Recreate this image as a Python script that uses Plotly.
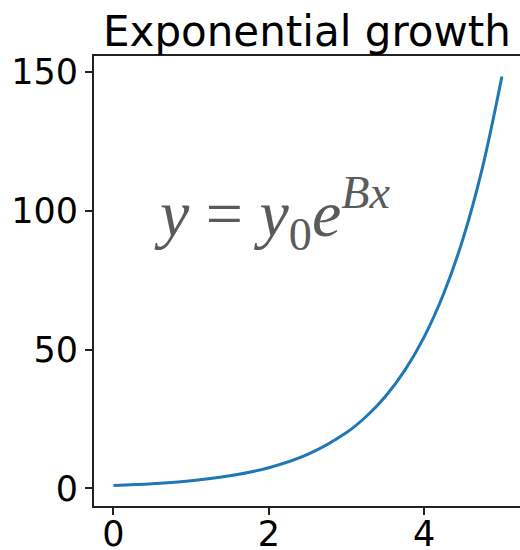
import plotly.graph_objects as go

# Sampled points of the growth curve
x_vals = [0.0, 0.5, 1.0, 1.5, 2.0, 2.5, 3.0, 3.25, 3.5, 3.75, 4.0, 4.25, 4.5, 4.75, 5.0]
y_vals = [1.0, 1.65, 2.7, 4.5, 7.4, 12.2, 20.1, 25.8, 33.1, 42.5, 54.6, 70.1, 90.0, 115.6, 148.4]

x_ticks = [0, 2, 4]
y_ticks = [0, 50, 100, 150]

title_text = "Exponential growth"
formula_text = "<i>y</i> = <i>y</i><sub>0</sub><i>e</i><sup><i>Bx</i></sup>"

fig = go.Figure()
fig.add_trace(go.Scatter(
    x=x_vals, y=y_vals, mode="lines",
    line=dict(color="#1f77b4", width=3, shape="spline"),
    showlegend=False, hoverinfo="skip",
))

axis_common = dict(
    showgrid=False, zeroline=False, showline=True, linecolor="#222222", linewidth=2,
    ticks="outside", ticklen=7, tickwidth=2, tickcolor="#222222", automargin=False,
    tickfont=dict(family="DejaVu Sans", size=35, color="black"),
)

fig.update_layout(
    width=520, height=550,
    margin=dict(l=94, r=0, t=56, b=44),
    paper_bgcolor="white", plot_bgcolor="white",
    xaxis=dict(range=[-0.25, 5.233], tickvals=x_ticks, mirror=True,
               ticklabelstandoff=-11, **axis_common),
    yaxis=dict(range=[-6.37, 155.8], tickvals=y_ticks, mirror=False, **axis_common),
    annotations=[
        dict(text=title_text, xref="paper", yref="paper", x=0.5, y=1.0,
             xanchor="center", yanchor="bottom", showarrow=False, yshift=-2,
             font=dict(family="DejaVu Sans", size=42, color="black")),
        dict(text=formula_text, xref="x", yref="y", x=0.5, y=99,
             xanchor="left", yanchor="middle", showarrow=False,
             font=dict(family="Liberation Serif", size=66, color="#5a5a5a")),
    ],
)

fig.write_html("out.html")
